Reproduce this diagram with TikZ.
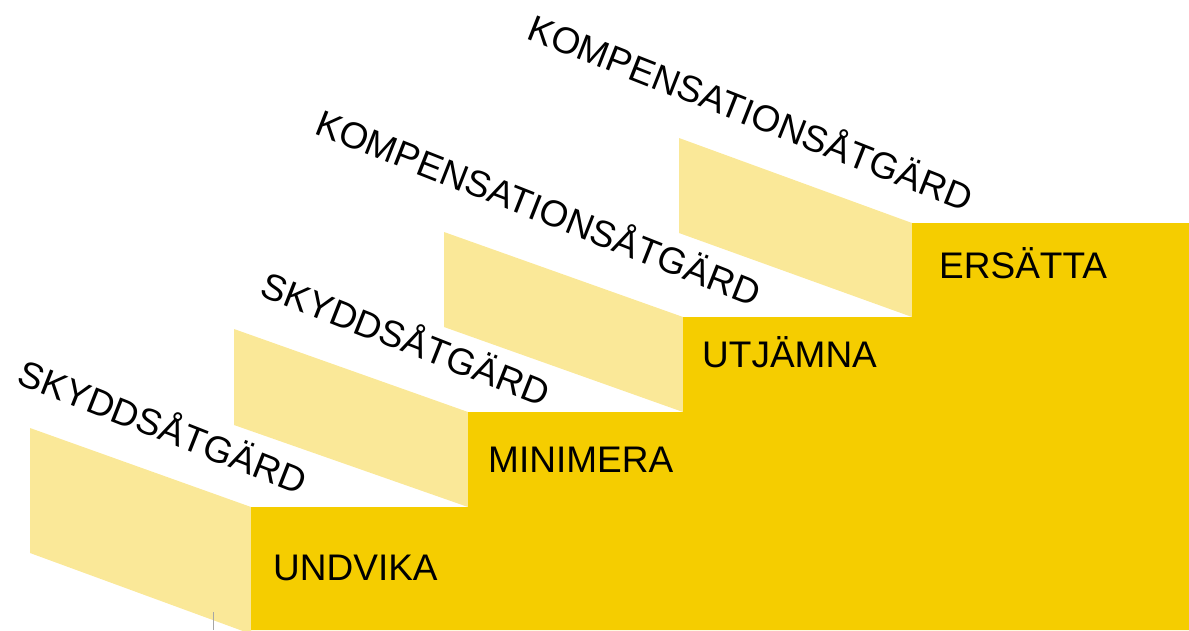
\documentclass[tikz,border=0pt]{standalone}
\usepackage{fontspec}
\setmainfont{Liberation Sans}
\definecolor{stepdark}{RGB}{245,205,0}
\definecolor{steplight}{RGB}{250,232,152}
\tikzset{
  frontface/.style={fill=stepdark, draw=none},
  sideface/.style={fill=steplight, draw=none},
  actlabel/.style={anchor=base west, inner sep=0pt, font=\fontsize{37}{44}\selectfont, text=black},
  kindlabel/.style={anchor=base west, inner sep=0pt, font=\fontsize{37}{44}\selectfont, text=black, rotate=-21.5},
}
\begin{document}
\begin{tikzpicture}[x=1pt,y=-1pt]
\useasboundingbox (0,0) rectangle (1189,630);
\begin{scope}
\clip (0,0) rectangle (1189,630);
% side faces
\fill[sideface] (30,553) -- (30,428) -- (251,507) -- (251,634) -- cycle;
\fill[sideface] (234,425) -- (234,329) -- (468,412) -- (468,507) -- cycle;
\fill[sideface] (444,327) -- (444,232) -- (683,317) -- (683,412) -- cycle;
\fill[sideface] (679,233) -- (679,138) -- (912,223) -- (912,317) -- cycle;
% front faces
\fill[frontface] (251,630) -- (251,507) -- (468,507) -- (468,412) -- (683,412)
  -- (683,317) -- (912,317) -- (912,223) -- (1189,223) -- (1189,630) -- cycle;
\end{scope}
\draw[gray!70, line width=0.6pt] (213,612) -- (213,630);
% front labels
\node[actlabel] (undvika) at (273,580) {UNDVIKA};
\node[actlabel] (minimera) at (488,472) {MINIMERA};
\node[actlabel] (utjamna) at (702,367) {UTJÄMNA};
\node[actlabel] (ersatta) at (939,278) {ERSÄTTA};
% rotated labels
\node[kindlabel] (skydd1) at (15,383) {SKYDDSÅTGÄRD};
\node[kindlabel] (skydd2) at (258,295) {SKYDDSÅTGÄRD};
\node[kindlabel] (komp1) at (313,133) {KOMPENSATIONSÅTGÄRD};
\node[kindlabel] (komp2) at (525,38) {KOMPENSATIONSÅTGÄRD};
\end{tikzpicture}
\end{document}
